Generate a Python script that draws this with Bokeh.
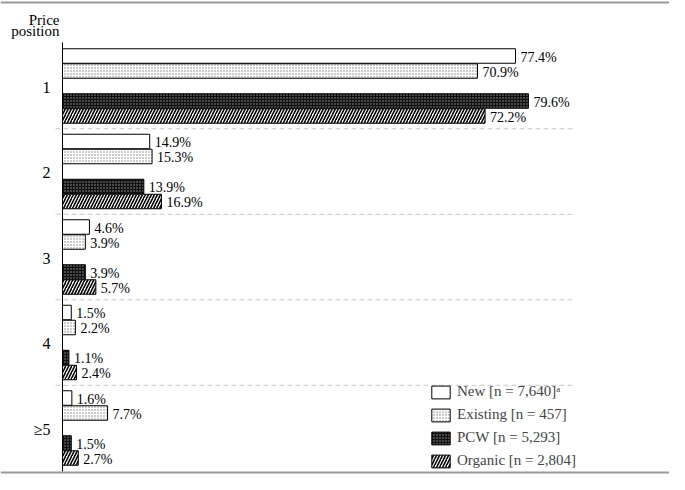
import numpy as np
from bokeh.plotting import figure
from bokeh.models import Range1d, ColumnDataSource, Span, Legend
from bokeh.core.properties import value
from bokeh.embed import file_html
from bokeh.resources import INLINE

# ---- data ----
categories = ["1", "2", "3", "4", "\u22655"]
series_names = ["New [n = 7,640]\u1d43", "Existing [n = 457]", "PCW [n = 5,293]", "Organic [n = 2,804]"]
new_vals = [77.4, 14.9, 4.6, 1.5, 1.6]
existing_vals = [70.9, 15.3, 3.9, 2.2, 7.7]
pcw_vals = [79.6, 13.9, 3.9, 1.1, 1.5]
organic_vals = [72.2, 16.9, 5.7, 2.4, 2.7]
axis_title = ["Price", "position"]

FONT = "Liberation Serif"
W, H = 669, 474
PX = 5.853      # px per percent
PITCH = 85.5    # px per group
X0 = 62         # x of zero within figure
Y0 = 85.5       # y of first group centre within figure

x_start = -X0 / PX
x_end = (W - X0) / PX
y_top = (0 - Y0) / PITCH
y_bot = (H - Y0) / PITCH

p = figure(width=W, height=H, output_backend="svg", toolbar_location=None,
           x_range=Range1d(x_start, x_end), y_range=Range1d(y_bot, y_top),
           min_border=0, min_border_left=0, min_border_right=0,
           min_border_top=0, min_border_bottom=0)
p.xaxis.visible = False
p.yaxis.visible = False
p.grid.visible = False
p.outline_line_color = None
p.background_fill_color = "white"
p.border_fill_color = "white"

pos = np.arange(len(categories), dtype=float)
bar_h = 14.5 / PITCH
offs = [-30 / PITCH, -15 / PITCH, 15 / PITCH, 30 / PITCH]

styles = [
    dict(fill_color="white"),
    dict(fill_color="white", hatch_pattern="dot", hatch_color="#808080", hatch_scale=3, hatch_weight=1),
    dict(fill_color="#111111", hatch_pattern="dot", hatch_color="#9a9a9a", hatch_scale=3, hatch_weight=1),
    dict(fill_color="white", hatch_pattern="right_diagonal_line", hatch_color="black", hatch_scale=6, hatch_weight=1.6),
]
all_vals = [new_vals, existing_vals, pcw_vals, organic_vals]

# separators between groups
sep_y = pos[:-1] + 0.5
p.segment(x0=-7 / PX, x1=(575 - X0) / PX, y0=sep_y, y1=sep_y, line_color="#c8c8c8",
          line_width=1, line_dash="5 3")

renderers = []
for vals, off, st, name in zip(all_vals, offs, styles, series_names):
    src = ColumnDataSource(dict(y=pos + off, right=vals,
                                lab=[f"{v:.1f}%" for v in vals]))
    r = p.hbar(y="y", left=0, right="right", height=bar_h, source=src,
               line_color="black", line_width=1, **st)
    renderers.append((name, [r]))
    p.text(x="right", y="y", text="lab", source=src, x_offset=5, y_offset=1,
           text_font=value(FONT), text_font_size="14px", text_color="black",
           text_baseline="middle", text_align="left")

# axis line
p.segment(x0=[0], x1=[0], y0=[-0.51], y1=[4.51], line_color="black", line_width=1)

# category labels
p.text(x=[0] * len(categories), y=list(pos), text=categories, x_offset=-12, y_offset=1,
       text_font=value(FONT), text_font_size="16px", text_color="black",
       text_align="right", text_baseline="middle")

# axis title
p.text(x=[0, 0], y=[(19 - Y0) / PITCH, (30 - Y0) / PITCH], text=axis_title, x_offset=-3,
       text_font=value(FONT), text_font_size="15px", text_color="black",
       text_align="right", text_baseline="middle")

# top / bottom rules
p.add_layout(Span(location=(2 - Y0) / PITCH, dimension="width", line_color="#999999", line_width=2))
p.add_layout(Span(location=(H - 2 - Y0) / PITCH, dimension="width", line_color="#999999", line_width=2))

legend = Legend(items=renderers, location=(429, 5), padding=0, margin=0, spacing=6,
                glyph_width=23, glyph_height=16, label_height=16, label_standoff=5,
                label_text_font=FONT, label_text_font_size="15px",
                border_line_color=None, background_fill_alpha=0)
p.add_layout(legend)

open("out.html", "w").write(file_html(p, INLINE))
